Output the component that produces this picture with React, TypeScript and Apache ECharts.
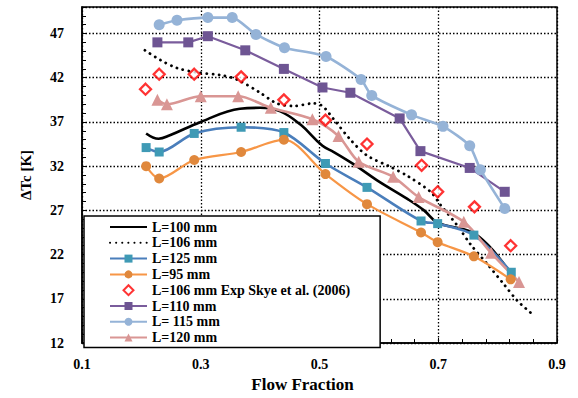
import React, { useEffect, useRef } from "react";
import * as echarts from "echarts";

// ---- data (Flow Fraction, ΔTc [K]) ----
const L100_X = [0.208, 0.229, 0.248, 0.3, 0.366, 0.4, 0.434, 0.468, 0.505, 0.524, 0.558, 0.597, 0.648, 0.676, 0.699, 0.755, 0.785, 0.822];
const L100_Y = [35.7, 35.1, 35.5, 37.0, 38.5, 38.6, 38.2, 36.7, 34.3, 33.6, 32.2, 30.4, 28.3, 27.0, 25.6, 24.6, 23.0, 19.9];

const L106_X = [0.206, 0.232, 0.26, 0.293, 0.333, 0.361, 0.4, 0.428, 0.456, 0.49, 0.505, 0.524, 0.552, 0.58, 0.62, 0.648, 0.687, 0.704, 0.732, 0.755, 0.783, 0.811, 0.833, 0.856];
const L106_Y = [45.1, 44.0, 43.1, 42.6, 42.3, 41.8, 40.3, 39.1, 38.8, 39.1, 38.8, 37.3, 35.0, 33.2, 31.9, 30.9, 29.1, 27.6, 25.3, 23.1, 20.9, 18.6, 16.8, 15.4];

const L125_X = [0.208, 0.23, 0.289, 0.368, 0.44, 0.51, 0.58, 0.671, 0.699, 0.76, 0.823];
const L125_Y = [34.1, 33.6, 35.7, 36.4, 35.8, 32.3, 29.6, 25.8, 25.5, 24.2, 20.0];

const L95_X = [0.208, 0.23, 0.289, 0.368, 0.44, 0.51, 0.58, 0.671, 0.699, 0.76, 0.822];
const L95_Y = [32.0, 30.6, 32.7, 33.6, 35.0, 31.1, 27.7, 24.5, 23.4, 21.8, 19.2];

const EXP_X = [0.207, 0.23, 0.289, 0.368, 0.44, 0.51, 0.58, 0.672, 0.699, 0.761, 0.822];
const EXP_Y = [40.7, 42.4, 42.4, 42.1, 39.5, 37.2, 34.5, 32.1, 29.1, 27.4, 23.0];

const L110_X = [0.227, 0.279, 0.312, 0.375, 0.44, 0.505, 0.552, 0.635, 0.67, 0.753, 0.812];
const L110_Y = [46.0, 46.0, 46.7, 45.1, 43.0, 40.9, 40.3, 37.4, 33.7, 31.8, 29.1];

const L115_X = [0.23, 0.26, 0.312, 0.353, 0.393, 0.441, 0.511, 0.57, 0.588, 0.655, 0.708, 0.753, 0.771, 0.812];
const L115_Y = [48.0, 48.5, 48.8, 48.8, 46.9, 45.4, 44.4, 41.8, 40.0, 37.8, 36.5, 34.3, 31.6, 27.2];

const L120_X = [0.227, 0.243, 0.3, 0.363, 0.418, 0.488, 0.532, 0.566, 0.624, 0.667, 0.743, 0.789, 0.836];
const L120_Y = [39.5, 39.0, 39.9, 39.9, 38.6, 37.3, 35.4, 32.5, 30.8, 28.5, 25.7, 22.2, 18.9];

const X_MIN = 0.1;
const X_MAX = 0.9;
const X_STEP = 0.2;
const Y_MIN = 12;
const Y_MAX = 50;
const Y_STEP = 5;

const FONT = "Liberation Serif";

// axes are offset so that the first tick sits at 0 (interval-aligned)
const pts = (xs: number[], ys: number[]) =>
  xs.map((x, i) => [x - X_MIN, ys[i] - Y_MIN]);

export default function App() {
  const ref = useRef<HTMLDivElement>(null);
  useEffect(() => {
    if (!ref.current) return;
    const chart = echarts.init(ref.current, null, { renderer: "svg" });
    const lineSeries = (
      name: string,
      xs: number[],
      ys: number[],
      lineColor: string,
      markColor: string,
      symbol: string,
      size: number,
      width: number,
      smooth: number | boolean
    ) => ({
      name,
      type: "line",
      data: pts(xs, ys),
      symbol,
      symbolSize: size,
      smooth,
      lineStyle: { color: lineColor, width },
      itemStyle: { color: markColor },
    });
    const hidden = { color: "rgba(0,0,0,0)", opacity: 0, borderWidth: 0 };
    chart.setOption({
      animation: false,
      backgroundColor: "#fff",
      grid: {
        left: 82,
        top: 7,
        right: 21,
        bottom: 52,
        show: true,
        borderColor: "#000",
        borderWidth: 1.5,
      },
      xAxis: {
        type: "value",
        min: 0,
        max: X_MAX - X_MIN,
        interval: X_STEP,
        name: "Flow Fraction",
        nameLocation: "middle",
        nameGap: 33,
        nameTextStyle: {
          fontFamily: FONT,
          fontWeight: "bold",
          fontSize: 17,
          color: "#000",
          padding: [0, 34, 0, 0],
        },
        axisLine: { show: true, lineStyle: { color: "#000", width: 1.5 } },
        axisTick: { show: true, inside: true, length: 5, lineStyle: { color: "#000" } },
        minorTick: { show: true, splitNumber: 5, length: 4, lineStyle: { color: "#000" } },
        axisLabel: {
          margin: 14,
          fontFamily: FONT,
          fontWeight: "bold",
          fontSize: 14,
          color: "#000",
          formatter: (v: number) => (v + X_MIN).toFixed(1),
        },
        splitLine: {
          show: true,
          lineStyle: { color: "#000", type: [1.5, 2], width: 1.3 },
        },
      },
      yAxis: {
        type: "value",
        min: 0,
        max: Y_MAX - Y_MIN,
        interval: Y_STEP,
        name: "ΔTc [K]",
        nameLocation: "middle",
        nameGap: 49,
        nameTextStyle: {
          fontFamily: FONT,
          fontWeight: "bold",
          fontSize: 15,
          color: "#000",
        },
        axisLine: { show: true, lineStyle: { color: "#000", width: 1.5 } },
        axisTick: { show: true, inside: true, length: 5, lineStyle: { color: "#000" } },
        minorTick: { show: true, splitNumber: 5, length: 4, lineStyle: { color: "#000" } },
        axisLabel: {
          margin: 18,
          fontFamily: FONT,
          fontWeight: "bold",
          fontSize: 14,
          color: "#000",
          formatter: (v: number) => (v > Y_MAX - Y_MIN - 1 ? "" : String(Math.round(v + Y_MIN))),
        },
        splitLine: {
          show: true,
          lineStyle: { color: "#000", type: [1.5, 2], width: 1.3 },
        },
      },
      legend: {
        orient: "vertical",
        left: 84,
        top: 216,
        padding: [4, 30, 3, 25],
        itemWidth: 37,
        itemHeight: 10,
        itemGap: 1.8,
        backgroundColor: "#fff",
        borderColor: "#000",
        borderWidth: 1.5,
        borderRadius: 0,
        z: 10,
        textStyle: {
          fontFamily: FONT,
          fontWeight: "bold",
          fontSize: 14,
          lineHeight: 14,
          color: "#000",
        },
        data: [
          { name: "L=100 mm", itemStyle: hidden },
          { name: "L=106 mm", itemStyle: hidden },
          "L=125 mm",
          "L=95 mm",
          {
            name: "L=106 mm Exp Skye et al. (2006)",
            icon: "path://M5,0L10,5L5,10L0,5Z",
          },
          "L=110 mm",
          "L= 115 mm",
          "L=120 mm",
        ],
      },
      series: [
        {
          name: "L=100 mm",
          type: "line",
          data: pts(L100_X, L100_Y),
          symbol: "none",
          smooth: 0.4,
          lineStyle: { color: "#000", width: 2.6 },
          itemStyle: { color: "#000" },
          z: 3,
        },
        {
          name: "L=106 mm",
          type: "line",
          data: pts(L106_X, L106_Y),
          symbol: "none",
          smooth: 0.3,
          lineStyle: { color: "#000", width: 2.8, type: [0.1, 6], cap: "round" },
          itemStyle: { color: "#000" },
          z: 3,
        },
        lineSeries("L=125 mm", L125_X, L125_Y, "#4A7EBB", "#3F9AB5", "rect", 9, 2.6, 0.3),
        lineSeries("L=95 mm", L95_X, L95_Y, "#F79646", "#E0883C", "circle", 10, 2.2, 0.3),
        {
          name: "L=106 mm Exp Skye et al. (2006)",
          type: "scatter",
          data: pts(EXP_X, EXP_Y),
          symbol: "diamond",
          symbolSize: [11, 11],
          itemStyle: { color: "#fff", borderColor: "#FF0000", borderWidth: 2.3 },
          z: 4,
        },
        lineSeries("L=110 mm", L110_X, L110_Y, "#7A5C9C", "#6E5593", "rect", 10, 2.2, false),
        lineSeries("L= 115 mm", L115_X, L115_Y, "#95B3D7", "#95B3D7", "circle", 11, 2.6, 0.2),
        lineSeries("L=120 mm", L120_X, L120_Y, "#D99694", "#D99694", "triangle", 12, 2.6, 0.3),
      ],
    });
    return () => chart.dispose();
  }, []);
  return (
    <div
      ref={ref}
      style={{ position: "fixed", left: 0, top: 0, width: 578, height: 398, background: "#fff" }}
    />
  );
}
